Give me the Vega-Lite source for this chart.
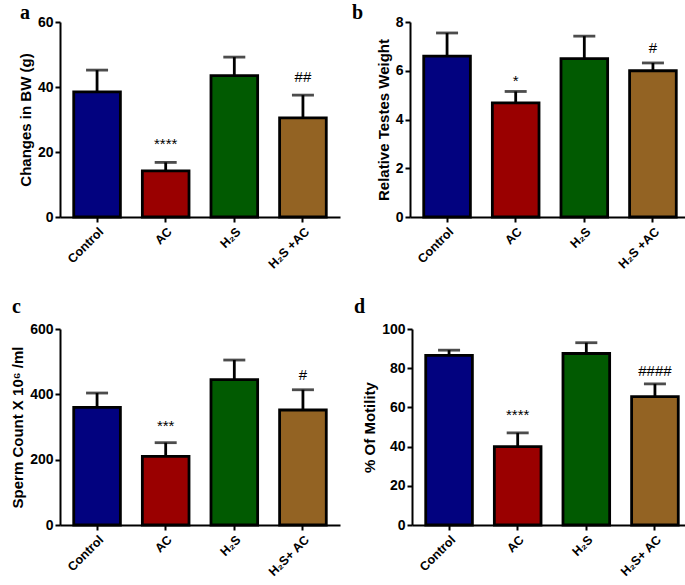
{
  "$schema": "https://vega.github.io/schema/vega-lite/v6.json",
  "padding": {"left": 10, "top": 3, "right": 0, "bottom": 0},
  "background": "white",
  "datasets": {
    "d": [
      {"panel": "a", "group": "Control", "mean": 38.5, "upper": 45.2, "sig": "", "sigy": 0},
      {"panel": "a", "group": "AC", "mean": 14.2, "upper": 16.8, "sig": "****", "sigy": 22.5},
      {"panel": "a", "group": "H₂S", "mean": 43.5, "upper": 49.2, "sig": "", "sigy": 0},
      {"panel": "a", "group": "H₂S +AC", "mean": 30.5, "upper": 37.5, "sig": "##", "sigy": 43},
      {"panel": "b", "group": "Control", "mean": 6.6, "upper": 7.55, "sig": "", "sigy": 0},
      {"panel": "b", "group": "AC", "mean": 4.68, "upper": 5.15, "sig": "*", "sigy": 5.6},
      {"panel": "b", "group": "H₂S", "mean": 6.5, "upper": 7.42, "sig": "", "sigy": 0},
      {"panel": "b", "group": "H₂S +AC", "mean": 6.0, "upper": 6.32, "sig": "#", "sigy": 6.95},
      {"panel": "c", "group": "Control", "mean": 360, "upper": 404, "sig": "", "sigy": 0},
      {"panel": "c", "group": "AC", "mean": 210, "upper": 252, "sig": "***", "sigy": 303},
      {"panel": "c", "group": "H₂S", "mean": 445, "upper": 505, "sig": "", "sigy": 0},
      {"panel": "c", "group": "H₂S+ AC", "mean": 352, "upper": 414, "sig": "#", "sigy": 459},
      {"panel": "d", "group": "Control", "mean": 86.5, "upper": 89.2, "sig": "", "sigy": 0},
      {"panel": "d", "group": "AC", "mean": 40, "upper": 47, "sig": "****", "sigy": 56},
      {"panel": "d", "group": "H₂S", "mean": 87.5, "upper": 93, "sig": "", "sigy": 0},
      {"panel": "d", "group": "H₂S+ AC", "mean": 65.5, "upper": 72, "sig": "####", "sigy": 78.5}
    ]
  },
  "config": {
    "view": {"stroke": null},
    "font": "Liberation Sans",
    "axis": {
      "grid": false,
      "domainColor": "black", "domainWidth": 2,
      "tickColor": "black", "tickWidth": 2, "tickSize": 5,
      "labelColor": "black", "labelFont": "Liberation Sans", "labelFontWeight": "bold", "labelFontSize": 14, "labelOverlap": false,
      "titleColor": "black", "titleFont": "Liberation Sans", "titleFontWeight": "bold", "titleFontSize": 15
    },
    "axisX": {"labelAngle": -45, "title": null, "labelPadding": 3, "labelFontSize": 12.5},
    "title": {"font": "Liberation Serif", "fontSize": 20, "fontWeight": "bold", "anchor": "start", "frame": "group", "color": "black", "offset": -8}
  },
  "vconcat": [
    {
      "hconcat": [
        {
          "width": 280, "height": 195,
          "title": {"text": "a", "dx": -40},
          "data": {"name": "d"},
          "transform": [{"filter": "datum.panel === 'a'"}],
          "encoding": {"x": {"field": "group", "type": "nominal", "sort": null, "scale": {"paddingInner": 0.32, "paddingOuter": 0.2}}},
          "layer": [
            {"mark": {"type": "bar", "stroke": "black", "strokeWidth": 2.8},
             "encoding": {"y": {"field": "mean", "type": "quantitative", "scale": {"domain": [0, 60]}, "axis": {"values": [0, 20, 40, 60], "labelOverlap": false, "title": "Changes in BW (g)"}},
                          "color": {"field": "group", "type": "nominal", "legend": null, "scale": {"domain": ["Control", "AC", "H₂S", "H₂S +AC", "H₂S+ AC"], "range": ["#02027f", "#9a0000", "#015a01", "#936323", "#936323"]}}}},
            {"mark": {"type": "rule", "strokeWidth": 2.8, "color": "black"}, "encoding": {"y": {"field": "mean", "type": "quantitative"}, "y2": {"field": "upper"}}},
            {"mark": {"type": "tick", "size": 22, "thickness": 2.8, "color": "black"}, "encoding": {"y": {"field": "upper", "type": "quantitative"}}},
            {"mark": {"type": "text", "fontSize": 15, "color": "black"}, "encoding": {"y": {"field": "sigy", "type": "quantitative"}, "text": {"field": "sig"}}}
          ]
        },
        {
          "width": 280, "height": 195,
          "title": {"text": "b", "dx": -58},
          "data": {"name": "d"},
          "transform": [{"filter": "datum.panel === 'b'"}],
          "encoding": {"x": {"field": "group", "type": "nominal", "sort": null, "scale": {"paddingInner": 0.32, "paddingOuter": 0.2}}},
          "layer": [
            {"mark": {"type": "bar", "stroke": "black", "strokeWidth": 2.8},
             "encoding": {"y": {"field": "mean", "type": "quantitative", "scale": {"domain": [0, 8]}, "axis": {"values": [0, 2, 4, 6, 8], "labelOverlap": false, "title": "Relative Testes Weight"}},
                          "color": {"field": "group", "type": "nominal", "legend": null}}},
            {"mark": {"type": "rule", "strokeWidth": 2.8, "color": "black"}, "encoding": {"y": {"field": "mean", "type": "quantitative"}, "y2": {"field": "upper"}}},
            {"mark": {"type": "tick", "size": 22, "thickness": 2.8, "color": "black"}, "encoding": {"y": {"field": "upper", "type": "quantitative"}}},
            {"mark": {"type": "text", "fontSize": 15, "color": "black"}, "encoding": {"y": {"field": "sigy", "type": "quantitative"}, "text": {"field": "sig"}}}
          ]
        }
      ],
      "spacing": 12
    },
    {
      "hconcat": [
        {
          "width": 280, "height": 196,
          "title": {"text": "c", "dx": -48, "offset": 5},
          "data": {"name": "d"},
          "transform": [{"filter": "datum.panel === 'c'"}],
          "encoding": {"x": {"field": "group", "type": "nominal", "sort": null, "scale": {"paddingInner": 0.32, "paddingOuter": 0.2}}},
          "layer": [
            {"mark": {"type": "bar", "stroke": "black", "strokeWidth": 2.8},
             "encoding": {"y": {"field": "mean", "type": "quantitative", "scale": {"domain": [0, 600]}, "axis": {"values": [0, 200, 400, 600], "labelOverlap": false, "title": "Sperm Count X 10⁶ /ml"}},
                          "color": {"field": "group", "type": "nominal", "legend": null}}},
            {"mark": {"type": "rule", "strokeWidth": 2.8, "color": "black"}, "encoding": {"y": {"field": "mean", "type": "quantitative"}, "y2": {"field": "upper"}}},
            {"mark": {"type": "tick", "size": 22, "thickness": 2.8, "color": "black"}, "encoding": {"y": {"field": "upper", "type": "quantitative"}}},
            {"mark": {"type": "text", "fontSize": 15, "color": "black"}, "encoding": {"y": {"field": "sigy", "type": "quantitative"}, "text": {"field": "sig"}}}
          ]
        },
        {
          "width": 280, "height": 196,
          "title": {"text": "d", "dx": -58, "offset": 5},
          "data": {"name": "d"},
          "transform": [{"filter": "datum.panel === 'd'"}],
          "encoding": {"x": {"field": "group", "type": "nominal", "sort": null, "scale": {"paddingInner": 0.32, "paddingOuter": 0.2}}},
          "layer": [
            {"mark": {"type": "bar", "stroke": "black", "strokeWidth": 2.8},
             "encoding": {"y": {"field": "mean", "type": "quantitative", "scale": {"domain": [0, 100]}, "axis": {"values": [0, 20, 40, 60, 80, 100], "labelOverlap": false, "tickCount": 6, "title": "% Of Motility"}},
                          "color": {"field": "group", "type": "nominal", "legend": null}}},
            {"mark": {"type": "rule", "strokeWidth": 2.8, "color": "black"}, "encoding": {"y": {"field": "mean", "type": "quantitative", "axis": {"values": [0, 20, 40, 60, 80, 100], "labelOverlap": false, "title": "% Of Motility"}}, "y2": {"field": "upper"}}},
            {"mark": {"type": "tick", "size": 22, "thickness": 2.8, "color": "black"}, "encoding": {"y": {"field": "upper", "type": "quantitative", "axis": {"values": [0, 20, 40, 60, 80, 100], "labelOverlap": false, "title": "% Of Motility"}}}},
            {"mark": {"type": "text", "fontSize": 15, "color": "black"}, "encoding": {"y": {"field": "sigy", "type": "quantitative", "axis": {"values": [0, 20, 40, 60, 80, 100], "labelOverlap": false, "title": "% Of Motility"}}, "text": {"field": "sig"}}}
          ]
        }
      ],
      "spacing": 14
    }
  ],
  "spacing": 26
}
